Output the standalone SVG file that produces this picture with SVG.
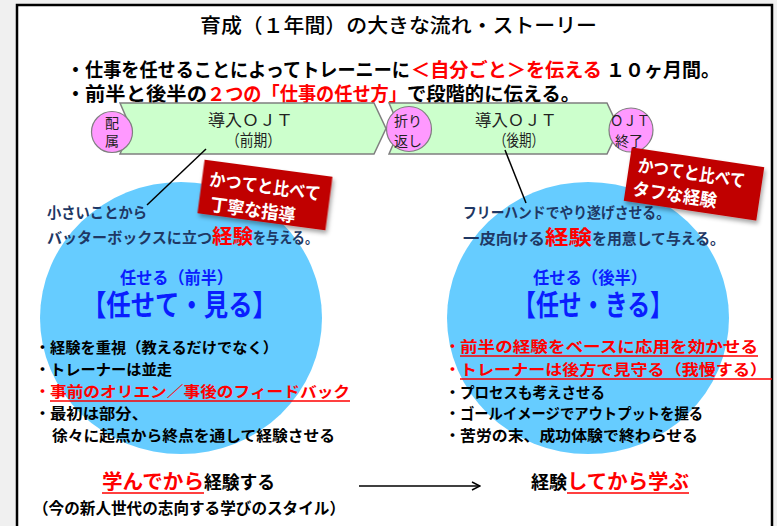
<svg xmlns="http://www.w3.org/2000/svg" width="777" height="526" viewBox="0 0 777 526">
<defs>
<style>
text{font-family:"Noto Sans CJK JP","Noto Sans",sans-serif;}
.b{font-weight:700}
.r{fill:#ff0000}
.k{fill:#000}
.n{fill:#1f3864}
.bl{fill:#0a1eff}
.w{fill:#fff}
.band{fill:#ccffcc;stroke:#7f7f7f;stroke-width:1.5}
.pk{fill:#ff99ff;stroke:#7f7f7f;stroke-width:1.2}
.bc{fill:#66ccff}
.stamp{fill:#c00000}
.ul{stroke:#ff0000;stroke-width:1.5}
.ln{stroke:#000;stroke-width:1.5;fill:none}
.s14{font-size:14px}
.s15{font-size:15px}
.s16{font-size:16px}
.s18{font-size:18px}
.s19{font-size:19px}
.s20{font-size:20px}
</style>
<filter id="sh" x="-20%" y="-20%" width="140%" height="150%"><feDropShadow dx="2" dy="3" stdDeviation="2" flood-color="#000" flood-opacity="0.35"/></filter>
<marker id="ah" markerWidth="10" markerHeight="10" refX="9" refY="5" orient="auto" markerUnits="userSpaceOnUse"><path d="M1,1 L9,5 L1,9" fill="none" stroke="#000" stroke-width="1.5"/></marker>
</defs>

<rect x="0" y="0" width="777" height="526" fill="#f0f0f0"/>
<rect x="17" y="5" width="755" height="540" fill="#fff" stroke="#000" stroke-width="2.5"/>

<g id="title">
<text x="200" y="33" font-size="20" font-weight="500" class="k" textLength="397" lengthAdjust="spacingAndGlyphs">育成（１年間）の大きな流れ・ストーリー</text>
</g>

<g id="intro" class="b s19">
<text x="66" y="77" class="k">・</text>
<text x="85" y="77" class="k" textLength="325" lengthAdjust="spacingAndGlyphs">仕事を任せることによってトレーニーに</text>
<text x="411" y="77" class="r" textLength="191" lengthAdjust="spacingAndGlyphs">＜自分ごと＞を伝える</text>
<text x="606" y="77" class="k" textLength="114" lengthAdjust="spacingAndGlyphs">１０ヶ月間。</text>
<text x="66" y="101" class="k">・</text>
<text x="85" y="101" class="k" textLength="122" lengthAdjust="spacingAndGlyphs">前半と後半の</text>
<text x="207" y="101" class="r" textLength="200" lengthAdjust="spacingAndGlyphs">２つの「仕事の任せ方」</text>
<text x="407" y="101" class="k" textLength="173" lengthAdjust="spacingAndGlyphs">で段階的に伝える。</text>
</g>

<g id="band-first">
<polygon class="band" points="120,103 374,103 386,128.5 374,154 120,154 131,128.5"/>
<text x="208" y="126" class="s16" fill="#222" textLength="85" lengthAdjust="spacingAndGlyphs">導入ＯＪＴ</text>
<text x="226" y="146" class="s16" fill="#222" textLength="55" lengthAdjust="spacingAndGlyphs">（前期）</text>
</g>
<g id="band-second">
<polygon class="band" points="389,103 607,103 619,128.5 607,154 389,154 400,128.5"/>
<text x="475" y="126" class="s16" fill="#222" textLength="82" lengthAdjust="spacingAndGlyphs">導入ＯＪＴ</text>
<text x="494" y="146" class="s16" fill="#222" textLength="50" lengthAdjust="spacingAndGlyphs">（後期）</text>
</g>

<g id="node-haizoku">
<circle class="pk" cx="112" cy="132" r="20.5"/>
<text x="112" y="128" class="s14" fill="#222" text-anchor="middle">配</text>
<text x="112" y="146" class="s14" fill="#222" text-anchor="middle">属</text>
</g>
<g id="node-orikaeshi">
<circle class="pk" cx="409" cy="129" r="22.5"/>
<text x="408" y="126" class="s14" fill="#222" text-anchor="middle">折り</text>
<text x="408" y="146" class="s14" fill="#222" text-anchor="middle">返し</text>
</g>
<g id="node-ojt-end">
<circle class="pk" cx="631" cy="130" r="22"/>
<text x="610" y="126" class="s14" fill="#222" textLength="40" lengthAdjust="spacingAndGlyphs">ＯＪＴ</text>
<text x="629" y="146" class="s14" fill="#222" text-anchor="middle">終了</text>
</g>

<g id="circle-first">
<ellipse class="bc" cx="181" cy="318" rx="141" ry="136"/>
<text x="120" y="284" font-size="17" class="b bl" textLength="113" lengthAdjust="spacingAndGlyphs">任せる（前半）</text>
<text x="82" y="316" font-size="29" class="b bl" textLength="195" lengthAdjust="spacingAndGlyphs">【任せて・見る】</text>
<g class="b s15">
<text x="35" y="353" class="k">・</text>
<text x="50" y="353" class="k" textLength="228" lengthAdjust="spacingAndGlyphs">経験を重視（教えるだけでなく）</text>
<text x="35" y="375" class="k">・</text>
<text x="50" y="375" class="k" textLength="122" lengthAdjust="spacingAndGlyphs">トレーナーは並走</text>
<text x="35" y="397" class="r">・</text>
<text x="50" y="397" class="r" textLength="300" lengthAdjust="spacingAndGlyphs">事前のオリエン／事後のフィードバック</text>
<text x="35" y="419" class="k">・</text>
<text x="50" y="419" class="k" textLength="98" lengthAdjust="spacingAndGlyphs">最初は部分、</text>
<text x="52" y="441" class="k" textLength="283" lengthAdjust="spacingAndGlyphs">徐々に起点から終点を通して経験させる</text>
</g>
<line class="ul" x1="50" y1="401" x2="350" y2="401"/>
</g>

<g id="circle-second">
<ellipse class="bc" cx="588" cy="318" rx="141" ry="136"/>
<text x="533" y="284" font-size="17" class="b bl" textLength="114" lengthAdjust="spacingAndGlyphs">任せる（後半）</text>
<text x="513" y="316" font-size="29" class="b bl" textLength="160" lengthAdjust="spacingAndGlyphs">【任せ・きる】</text>
<g class="b s15">
<text x="445" y="352" class="r">・</text>
<text x="460" y="352" class="r" textLength="298" lengthAdjust="spacingAndGlyphs">前半の経験をベースに応用を効かせる</text>
<text x="445" y="375" class="r">・</text>
<text x="460" y="375" class="r" textLength="307" lengthAdjust="spacingAndGlyphs">トレーナーは後方で見守る（我慢する）</text>
<text x="445" y="398" class="k">・</text>
<text x="460" y="398" class="k" textLength="145" lengthAdjust="spacingAndGlyphs">プロセスも考えさせる</text>
<text x="445" y="419" class="k">・</text>
<text x="460" y="419" class="k" textLength="243" lengthAdjust="spacingAndGlyphs">ゴールイメージでアウトプットを握る</text>
<text x="445" y="441" class="k">・</text>
<text x="460" y="441" class="k" textLength="238" lengthAdjust="spacingAndGlyphs">苦労の末、成功体験で終わらせる</text>
</g>
<line class="ul" x1="460" y1="356" x2="758" y2="356"/>
<line class="ul" x1="460" y1="379" x2="772" y2="379"/>
</g>

<g id="note-first" class="b">
<text x="47" y="218" class="s15 n" textLength="100" lengthAdjust="spacingAndGlyphs">小さいことから</text>
<text x="47" y="243" class="s15 n" textLength="165" lengthAdjust="spacingAndGlyphs">バッターボックスに立つ</text>
<text x="212" y="244" class="s20 r" textLength="41" lengthAdjust="spacingAndGlyphs">経験</text>
<text x="253" y="243" class="s15 n" textLength="65" lengthAdjust="spacingAndGlyphs">を与える。</text>
</g>
<g id="note-second" class="b">
<text x="463" y="218" class="s15 n" textLength="207" lengthAdjust="spacingAndGlyphs">フリーハンドでやり遂げさせる。</text>
<text x="463" y="244" class="s15 n" textLength="82" lengthAdjust="spacingAndGlyphs">一皮向ける</text>
<text x="545" y="245" class="s20 r" textLength="47" lengthAdjust="spacingAndGlyphs">経験</text>
<text x="592" y="244" class="s15 n" textLength="133" lengthAdjust="spacingAndGlyphs">を用意して与える。</text>
</g>

<g id="connectors">
<line class="ln" x1="206" y1="149" x2="147" y2="205"/>
<line class="ln" x1="505" y1="150" x2="526" y2="203"/>
<line class="ln" x1="359" y1="486" x2="480" y2="486" marker-end="url(#ah)"/>
</g>

<g id="stamp-first" transform="translate(265,195) rotate(7.6)">
<rect class="stamp" x="-64.5" y="-27" width="129" height="54" filter="url(#sh)"/>
<text x="-57" y="-2" class="b s18 w" textLength="112" lengthAdjust="spacingAndGlyphs">かつてと比べて</text>
<text x="-53" y="23" class="b s18 w" textLength="86" lengthAdjust="spacingAndGlyphs">丁寧な指導</text>
</g>
<g id="stamp-second" transform="translate(694,184) rotate(8.5)">
<rect class="stamp" x="-67" y="-27" width="134" height="54" filter="url(#sh)"/>
<text x="-58" y="-4" class="b s18 w" textLength="108" lengthAdjust="spacingAndGlyphs">かつてと比べて</text>
<text x="-60" y="20" class="b s18 w" textLength="85" lengthAdjust="spacingAndGlyphs">タフな経験</text>
</g>

<g id="bottom-first" class="b">
<text x="102" y="489" class="s20 r" textLength="102" lengthAdjust="spacingAndGlyphs">学んでから</text>
<text x="204" y="489" class="s18 k" textLength="71" lengthAdjust="spacingAndGlyphs">経験する</text>
<line class="ul" x1="102" y1="493" x2="204" y2="493"/>
<text x="33" y="514" class="s16 k" textLength="312" lengthAdjust="spacingAndGlyphs">（今の新人世代の志向する学びのスタイル）</text>
</g>
<g id="bottom-second" class="b">
<text x="531" y="489" class="s18 k" textLength="36" lengthAdjust="spacingAndGlyphs">経験</text>
<text x="567" y="489" class="s20 r" textLength="122" lengthAdjust="spacingAndGlyphs">してから学ぶ</text>
<line class="ul" x1="567" y1="493" x2="689" y2="493"/>
</g>
</svg>
